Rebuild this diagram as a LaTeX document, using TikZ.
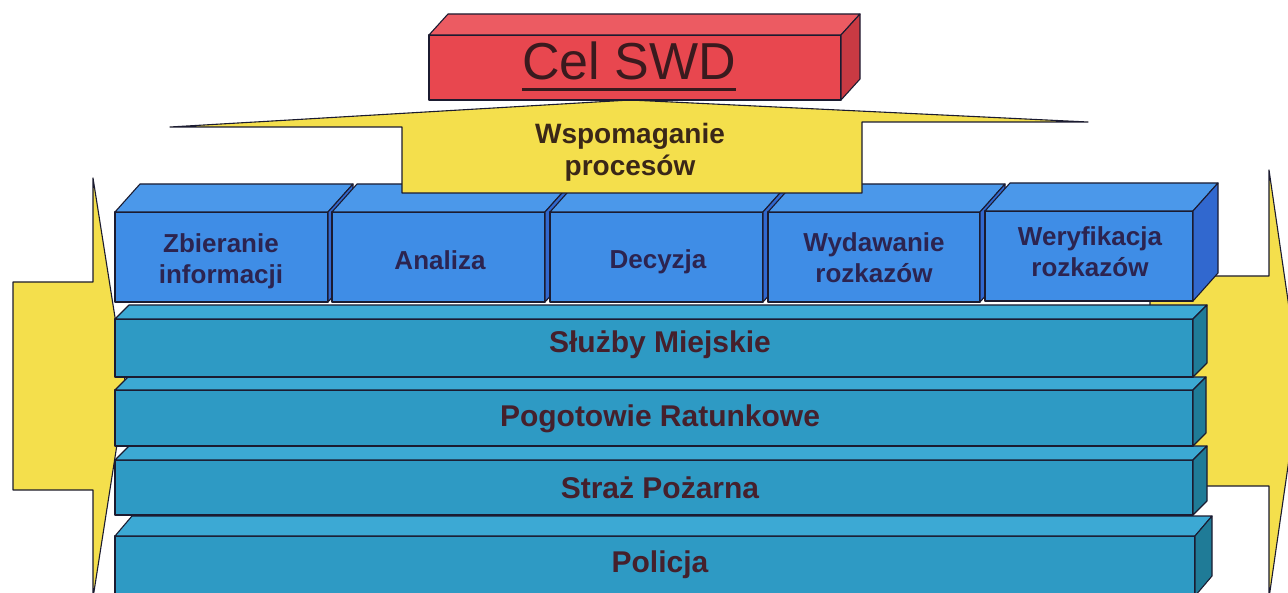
\documentclass[tikz,border=0pt]{standalone}
\usepackage{fontspec}
\setmainfont{Liberation Sans}
\definecolor{edgecol}{HTML}{1B1B30}
\definecolor{arrowyellow}{HTML}{F4DF4C}
\definecolor{procfront}{HTML}{3F8DE6}
\definecolor{proctop}{HTML}{4B98EA}
\definecolor{procside}{HTML}{3168CF}
\definecolor{barfront}{HTML}{2E9AC4}
\definecolor{bartop}{HTML}{3CA9D4}
\definecolor{barside}{HTML}{1F7B97}
\definecolor{goalfront}{HTML}{E8474F}
\definecolor{goaltop}{HTML}{EC5B62}
\definecolor{goalside}{HTML}{C93A43}
\definecolor{celink}{HTML}{3A1A1E}
\definecolor{wsink}{HTML}{3A2718}
\definecolor{boxink}{HTML}{2C2450}
\definecolor{barink}{HTML}{45202C}
\usetikzlibrary{calc}

% block with front face #1,#2 -- #3,#4, depth #5,#6, colours front/top/side
\newcommand{\slab}[9]{%
  \filldraw[faces, fill=#7] (#1,#2) rectangle (#3,#4);
  \filldraw[faces, fill=#8] (#1,#2) -- ++(#5,-#6) -- ({#3+#5},{#2-#6}) -- (#3,#2) -- cycle;
  \filldraw[faces, fill=#9] (#3,#2) -- ({#3+#5},{#2-#6}) -- ({#3+#5},{#4-#6}) -- (#3,#4) -- cycle;
}

\begin{document}
\begin{tikzpicture}[x=1pt, y=-1pt, line join=round, line cap=round]
	\tikzset{
		faces/.style={draw=edgecol, line width=1.1pt},
		arrowfill/.style={fill=arrowyellow, draw=edgecol, line width=1.1pt},
		boxtext/.style={font=\fontsize{26}{31}\selectfont\bfseries, text=boxink, align=center},
		bartext/.style={font=\fontsize{30}{34}\selectfont\bfseries, text=barink, anchor=base}
	}
	\useasboundingbox (0,0) rectangle (1288,593);
	\clip (0,0) rectangle (1288,593);
	% side arrows behind the layers
	\filldraw[arrowfill] (13,282) -- (93,282) -- (93,178) -- (126,387) -- (93,598) -- (93,490) -- (13,490) -- cycle;
	\filldraw[arrowfill] (1150,276) -- (1269,276) -- (1269,170) -- (1300,383) -- (1269,598) -- (1269,486) -- (1150,486) -- cycle;
	% services, lowest first
	\slab{115}{536}{1195}{596}{17}{20}{barfront}{bartop}{barside}
	\slab{115}{460}{1193}{515}{14}{14}{barfront}{bartop}{barside}
	\slab{115}{390}{1193}{446}{13}{13}{barfront}{bartop}{barside}
	\slab{115}{319}{1193}{377}{14}{14}{barfront}{bartop}{barside}
	% process steps
	\slab{115}{212}{328}{302}{25}{28}{procfront}{proctop}{procside}
	\slab{332}{212}{545}{302}{25}{28}{procfront}{proctop}{procside}
	\slab{550}{212}{763}{302}{25}{28}{procfront}{proctop}{procside}
	\slab{768}{212}{980}{302}{25}{28}{procfront}{proctop}{procside}
	\slab{985}{211}{1193}{301}{25}{28}{procfront}{proctop}{procside}
	% upward arrow
	\filldraw[arrowfill] (402,193) -- (402,127) -- (170,127) -- (630,100) -- (1088,122) -- (862,122) -- (862,193) -- cycle;
	% goal block
	\slab{429}{35}{841}{100}{19}{21}{goalfront}{goaltop}{goalside}
	\node[font=\fontsize{52}{60}\selectfont, text=celink, anchor=base, inner sep=0pt] (cel) at (629,80) {Cel SWD};
	\draw[line width=3pt, celink, line cap=butt] ([yshift=-10pt]cel.base west) -- ([yshift=-10pt]cel.base east);
	\node[font=\fontsize{28}{32}\selectfont\bfseries, text=wsink, align=center] (wspom) at (630,152) {Wspomaganie\\procesów};
	\node[boxtext] (zbieranie) at (221,261) {Zbieranie\\informacji};
	\node[boxtext, anchor=base] (analiza) at (440,270) {Analiza};
	\node[boxtext, anchor=base] (decyzja) at (658,269) {Decyzja};
	\node[boxtext] (wydawanie) at (874,258) {Wydawanie\\rozkazów};
	\node[boxtext] (weryfikacja) at (1090,252) {Weryfikacja\\rozkazów};
	\node[bartext] (sluzby) at (660,353) {Służby Miejskie};
	\node[bartext] (pogotowie) at (660,427) {Pogotowie Ratunkowe};
	\node[bartext] (straz) at (660,498) {Straż Pożarna};
	\node[bartext] (policja) at (660,572) {Policja};
\end{tikzpicture}
\end{document}
